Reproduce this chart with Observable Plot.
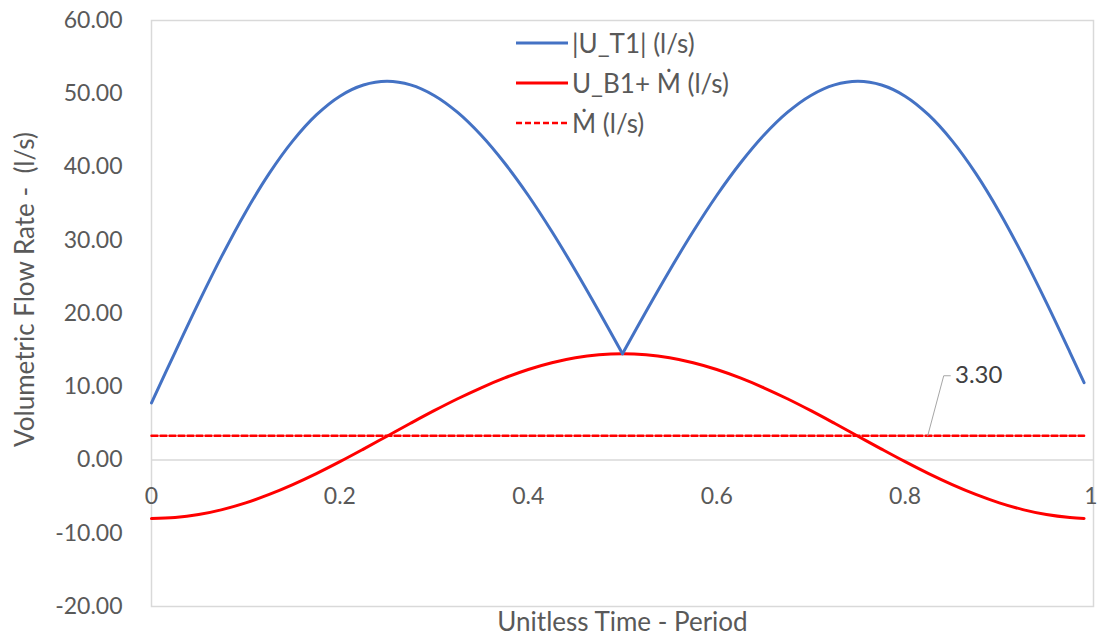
<!DOCTYPE html>
<html>
<head>
<meta charset="utf-8">
<script src="https://cdn.jsdelivr.net/npm/d3@7"></script>
<script src="https://cdn.jsdelivr.net/npm/@observablehq/plot@0.6"></script>
<style>
  html, body { margin: 0; padding: 0; background: #fff; }
  #wrap { position: relative; width: 1098px; height: 643px; font-family: Lato, "Open Sans", sans-serif; overflow: hidden; }
  #legend { position: absolute; left: 516px; top: 28px; font-size: 26px; color: #595959; }
  .row { position: absolute; left: 0; height: 30px; display: flex; align-items: center; white-space: nowrap; }
  .row svg { width: 52px; height: 10px; margin-right: 4px; }
</style>
</head>
<body>
<div id="wrap"></div>
<script>
// Time (unitless period)
const t = [0,0.025,0.05,0.075,0.1,0.125,0.15,0.175,0.2,0.225,0.25,0.275,0.3,0.325,0.35,0.375,0.4,0.425,0.45,0.475,0.5,
           0.525,0.55,0.575,0.6,0.625,0.65,0.675,0.7,0.725,0.75,0.775,0.8,0.825,0.85,0.875,0.9,0.925,0.95,0.975,0.99];
// |U_T1| (l/s)
const uT1 = [7.80,14.70,21.48,27.93,33.87,39.13,43.57,47.11,49.67,51.19,51.70,51.21,49.77,47.45,44.33,40.51,36.11,31.19,25.88,20.28,14.50,
             20.28,25.88,31.19,36.11,40.51,44.33,47.45,49.77,51.21,51.70,51.19,49.67,47.11,43.57,39.13,33.87,27.93,21.48,14.70,10.57];
// U_B1 + Mdot (l/s)
const uB1M = [-8.00,-7.86,-7.45,-6.77,-5.85,-4.70,-3.36,-1.86,-0.23,1.49,3.25,5.01,6.73,8.36,9.86,11.20,12.35,13.27,13.95,14.36,14.50,
              14.36,13.95,13.27,12.35,11.20,9.86,8.36,6.73,5.01,3.25,1.49,-0.23,-1.86,-3.36,-4.70,-5.85,-6.77,-7.45,-7.86,-7.98];
// Mdot (l/s)
const mDot = 3.30;
const mDotRange = [0, 0.99];
// |U_T1| has a cusp at t = 0.5 (two arches)
const cuspT = 0.5;
// data label annotation (anchor on dashed line, label position)
const labelLeader = [{t: 0.824, v: 3.30}, {t: 0.841, v: 11.5}, {t: 0.848, v: 11.5}];
const labelPos = {t: 0.853, v: 11.5, text: "3.30"};

const xTicks = [0, 0.2, 0.4, 0.6, 0.8, 1];
const xTickLabels = ["0", "0.2", "0.4", "0.6", "0.8", "1"];
const yTicks = [-20, -10, 0, 10, 20, 30, 40, 50, 60];

const series = ["|U_T1| (l/s)", "U_B1+ Ṁ (l/s)", "Ṁ (l/s)"];
const colors = ["#4472C4", "#FF0000", "#FF0000"];

const blue = [];
t.forEach((d, i) => {
  if (d <= cuspT) blue.push({t: d, v: uT1[i], arch: 1});
  if (d >= cuspT) blue.push({t: d, v: uT1[i], arch: 2});
});
const red = t.map((d, i) => ({t: d, v: uB1M[i]}));
const dashed = mDotRange.map(d => ({t: d, v: mDot}));
const xt = xTicks.map((d, i) => ({t: d, label: xTickLabels[i], last: i === xTicks.length - 1}));

const gray = "#595959";
const yFmt = d => d.toFixed(2);

const chart = Plot.plot({
  width: 1098,
  height: 643,
  marginLeft: 151,
  marginRight: 5,
  marginTop: 20,
  marginBottom: 37,
  style: {fontFamily: "Lato, 'Open Sans', sans-serif", fontSize: "23px", color: gray, background: "#fff", overflow: "visible"},
  x: {domain: [0, 1], axis: null},
  y: {domain: [-20, 60], axis: null},
  marks: [
    Plot.frame({stroke: "#d9d9d9", strokeWidth: 1.5}),
    Plot.ruleY([0], {stroke: "#d9d9d9", strokeWidth: 1.5}),
    Plot.axisY({ticks: yTicks, tickFormat: yFmt, tickSize: 0, tickPadding: 29, label: null, fontSize: 23, fill: gray}),
    Plot.text(xt.filter(d => !d.last), {x: "t", y: () => 0, text: "label", dy: 37, fontSize: 23, fill: gray}),
    Plot.text(xt.filter(d => d.last), {x: "t", y: () => 0, text: "label", dy: 37, dx: 4, textAnchor: "end", fontSize: 23, fill: gray}),
    Plot.text(["Volumetric Flow Rate -  (l/s)"], {frameAnchor: "left", textAnchor: "middle", dx: -126, dy: -24, rotate: -90, fontSize: 26, fill: gray}),
    Plot.text(["Unitless Time - Period"], {frameAnchor: "bottom", textAnchor: "middle", dy: 24, fontSize: 26, fill: gray}),
    Plot.line(dashed, {x: "t", y: "v", stroke: colors[2], strokeWidth: 2.5, strokeDasharray: "6,3"}),
    Plot.line(labelLeader, {x: "t", y: "v", stroke: "#a6a6a6", strokeWidth: 1}),
    Plot.text([labelPos], {x: "t", y: "v", text: "text", textAnchor: "start", fontSize: 24, fill: "#404040"}),
    Plot.line(red, {x: "t", y: "v", stroke: colors[1], strokeWidth: 3, curve: "catmull-rom"}),
    Plot.line(blue, {x: "t", y: "v", z: "arch", stroke: colors[0], strokeWidth: 3, curve: "catmull-rom"})
  ]
});

const wrap = document.getElementById("wrap");
wrap.appendChild(chart);

const legend = document.createElement("div");
legend.id = "legend";
const dashes = [null, null, "6,3"];
series.forEach((s, i) => {
  const row = document.createElement("div");
  row.className = "row";
  row.style.top = (i * 40) + "px";
  row.innerHTML = `<svg viewBox="0 0 52 10"><line x1="0" y1="5" x2="52" y2="5" stroke="${colors[i]}" stroke-width="${i === 2 ? 2.5 : 3}" ${dashes[i] ? `stroke-dasharray="${dashes[i]}"` : ""}/></svg><span>${s}</span>`;
  legend.appendChild(row);
});
wrap.appendChild(legend);
</script>
</body>
</html>
